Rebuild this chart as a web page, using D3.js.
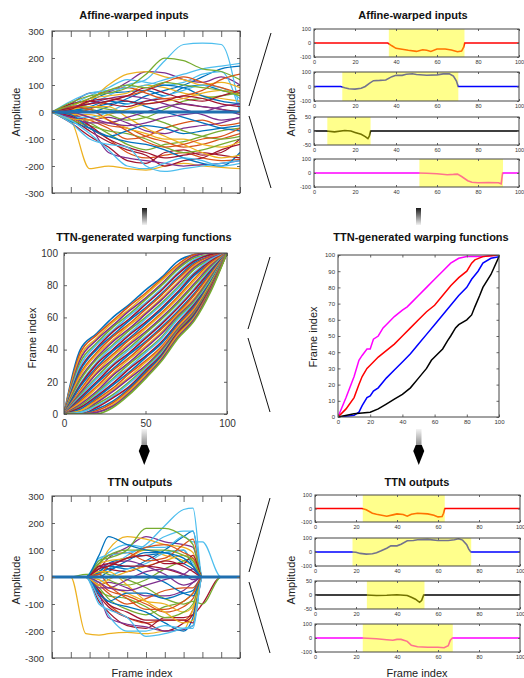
<!DOCTYPE html>
<html>
<head>
<meta charset="utf-8">
<script src="https://cdn.jsdelivr.net/npm/d3@7"></script>
<style>
  body { margin: 0; background: #fff; }
  svg { font-family: "Liberation Sans", Arial, sans-serif; }
</style>
</head>
<body>
<div id="fig"></div>
<script>
// ---- data ----
const matlabColors = ['#0072BD', '#D95319', '#EDB120', '#7E2F8E', '#77AC30', '#4DBEEE', '#A2142F'];

// left column, affine-warped inputs, sampled every 10 frames
const inFrames = [0, 10, 20, 30, 40, 50, 60, 70, 80, 90, 100];
const inSeries = [
  [0, 15, 40, 70, 75, 80, 60, 90, 100, 80, 70],
  [0, -20, -60, -100, -150, -170, -160, -150, -170, -180, -175],
  [0, -30, -210, -200, -210, -215, -200, -190, -200, -205, -210],
  [0, 30, 70, 75, 110, 150, 145, 120, 110, 130, 100],
  [0, -10, -40, -80, -120, -140, -120, -110, -90, -70, -60],
  [0, 10, 30, 60, 100, 120, 190, 250, 255, 250, 0],
  [0, -40, -90, -130, -180, -190, -150, -140, -160, -150, -100],
  [0, 5, 20, 40, 30, 60, 80, 100, 130, 160, 170],
  [0, -5, -20, -50, -60, -90, -110, -130, -120, -100, -80],
  [0, 20, 50, 60, 70, 100, 90, 70, 60, 50, 40],
  [0, -15, -30, -20, -40, -70, -80, -60, -50, -40, -20],
  [0, 0, 10, -10, -30, -20, 10, 40, 50, 60, 70],
  [0, 25, 60, 90, 120, 110, 100, 110, 140, 150, 0],
  [0, -25, -70, -110, -140, -160, -200, -180, -170, -140, -120],
  [0, 10, 0, 20, 50, 80, 100, 90, 60, 40, 30],
  [0, -10, -30, -60, -100, -90, -60, -40, -30, -50, -40],
  [0, 5, 40, 100, 140, 150, 130, 120, 100, 110, 90],
  [0, -5, -50, -150, -170, -180, -190, -200, -195, -190, -180],
  [0, 15, 20, 10, 0, -20, -40, -70, -90, -100, -90],
  [0, -20, -20, 0, 30, 40, 60, 80, 100, 90, 50],
  [0, 30, 40, 30, 20, 40, 50, 30, 20, 10, 0],
  [0, -35, -60, -90, -110, -120, -140, -170, -190, -200, -150],
  [0, 10, 50, 80, 90, 70, 50, 60, 80, 120, 140],
  [0, -10, -10, -30, -60, -80, -100, -100, -120, -130, -110],
  [0, 20, 30, 50, 60, 50, 30, 10, -10, -30, -20],
  [0, -30, -50, -70, -80, -100, -130, -150, -140, -120, -100],
  [0, 40, 70, 80, 90, 100, 120, 140, 160, 170, 180],
  [0, -15, -50, -100, -130, -150, -170, -160, -150, -160, -170],
  [0, 5, 15, 30, 40, 20, 0, -20, -40, -60, -70],
  [0, -5, 10, 40, 60, 80, 110, 130, 110, 90, 70],
  [0, 10, 20, 20, -20, -60, -90, -120, -150, -170, -160],
  [0, -20, -40, -40, -20, 0, 20, 30, 20, 10, -10],
  [0, 35, 60, 70, 90, 140, 200, 190, 160, 150, 120],
  [0, -40, -100, -120, -130, -200, -220, -210, -200, -190, -180],
  [0, 15, 30, 40, 60, 90, 70, 50, 40, 60, 80],
  [0, -10, -60, -90, -70, -50, -60, -80, -70, -60, -50],
  [0, 20, 10, -30, -70, -110, -130, -120, -100, -90, -60],
  [0, -25, -30, -10, 10, 30, 40, 50, 70, 80, 60],
  [0, 0, -20, -40, -50, -40, -20, -10, 0, 20, 30],
  [0, 25, 50, 80, 100, 90, 110, 100, 90, 80, 60],
  [0, -30, -80, -140, -200, -210, -190, -170, -180, -200, -190],
  [0, 10, 40, 50, 40, 30, 40, 60, 50, 30, 20],
  [0, 0, 0, 0, 0, 0, 0, 0, 0, 0, 0]
];

// left column, TTN outputs
const outFrames = [0, 10, 18, 25, 30, 40, 50, 60, 70, 75, 80, 90, 100];
const outSeries = [
  [0, 0, 0, 20, 50, 70, 80, 90, 100, 40, 0, 0, 0],
  [0, 0, 0, -60, -100, -150, -170, -160, -160, -120, 0, 0, 0],
  [0, 0, -210, -215, -210, -205, -210, -200, -195, -120, 0, 0, 0],
  [0, 0, 0, 30, 70, 110, 150, 130, 120, 110, 0, 0, 0],
  [0, 0, 0, -40, -80, -120, -140, -110, -90, -60, 0, 0, 0],
  [0, 0, 0, 10, 30, 80, 120, 190, 250, 255, 0, 0, 0],
  [0, 0, 0, -90, -130, -180, -190, -150, -150, -140, -100, 0, 0],
  [0, 0, 0, 20, 40, 30, 60, 100, 150, 170, 0, 0, 0],
  [0, 0, 0, -20, -50, -70, -100, -130, -110, -80, 0, 0, 0],
  [0, 0, 0, 50, 60, 70, 100, 80, 60, 40, 0, 0, 0],
  [0, 0, 0, -30, -20, -40, -70, -70, -50, -20, 0, 0, 0],
  [0, 0, 10, 10, -10, -30, -10, 30, 60, 70, 0, 0, 0],
  [0, 0, 0, 60, 90, 120, 110, 110, 150, 130, 130, 0, 0],
  [0, 0, 0, -70, -110, -150, -170, -200, -170, -140, 0, 0, 0],
  [0, 0, 0, 0, 20, 60, 90, 90, 50, 30, 0, 0, 0],
  [0, 0, 0, -30, -60, -100, -80, -50, -40, -40, 0, 0, 0],
  [0, 0, 0, 40, 100, 150, 140, 120, 110, 90, 0, 0, 0],
  [0, 0, 0, -60, -150, -175, -185, -200, -195, -180, 0, 0, 0],
  [0, 0, 0, 20, 10, -10, -40, -80, -100, -90, -100, 0, 0],
  [0, 0, 0, -20, 0, 30, 50, 90, 100, 50, 0, 0, 0],
  [0, 0, 0, 40, 30, 20, 40, 30, 10, 0, 0, 0, 0],
  [0, 0, 0, -60, -90, -110, -130, -170, -200, -150, 0, 0, 0],
  [0, 0, 0, 50, 80, 90, 60, 70, 120, 140, 0, 0, 0],
  [0, 0, 0, -10, -30, -60, -90, -100, -130, -110, 0, 0, 0],
  [0, 0, 0, 30, 50, 60, 40, 10, -30, -20, 0, 0, 0],
  [0, 0, 0, -50, -70, -80, -110, -150, -130, -100, 0, 0, 0],
  [0, 0, 0, 70, 80, 90, 110, 150, 170, 170, 0, 0, 0],
  [0, 0, 0, -50, -100, -130, -160, -160, -160, -170, 0, 0, 0],
  [0, 0, 0, 15, 30, 40, 10, -20, -60, -70, 0, 0, 0],
  [0, 0, 0, 10, 40, 70, 110, 120, 90, 70, 0, 0, 0],
  [0, 0, 0, 20, 20, -30, -90, -130, -170, -160, 0, 0, 0],
  [0, 0, 0, -40, -40, -10, 20, 30, 10, -10, 0, 0, 0],
  [0, 0, 0, 60, 70, 100, 180, 180, 150, 120, 0, 0, 0],
  [0, 0, 0, -100, -120, -150, -220, -210, -190, -180, 0, 0, 0],
  [0, 0, 0, 30, 40, 70, 80, 50, 50, 80, 0, 0, 0],
  [0, 0, 0, -60, -90, -60, -60, -80, -60, -50, 0, 0, 0],
  [0, 0, 0, 10, -30, -80, -120, -120, -90, -60, 0, 0, 0],
  [0, 0, 0, -30, -10, 20, 40, 60, 80, 60, 0, 0, 0],
  [0, 0, 0, -20, -40, -50, -30, -10, 10, 30, 0, 0, 0],
  [0, 0, 0, 50, 80, 100, 100, 100, 80, 60, 0, 0, 0],
  [0, 0, 0, -80, -140, -200, -200, -180, -190, -190, 0, 0, 0],
  [0, 0, 0, 40, 50, 40, 40, 60, 40, 20, 0, 0, 0],
  [0, 0, 0, 80, 150, 120, 100, 90, 70, 40, 0, 0, 0],
  [0, 0, 0, 0, 0, 0, 0, 0, 0, 0, 0, 0, 0]
];

// left column, warping functions
const warpFrames = [0, 10, 20, 30, 40, 50, 60, 70, 80, 90, 100];
const warpSeries = [
  [0, 40, 50, 60, 68, 77, 85, 95, 99, 100, 100],
  [0, 38, 49, 58, 67, 75, 84, 93, 99, 100, 100],
  [0, 36, 47, 57, 65, 74, 83, 92, 98, 100, 100],
  [0, 34, 46, 55, 64, 72, 81, 91, 98, 100, 100],
  [0, 32, 44, 54, 62, 71, 80, 90, 97, 99, 100],
  [0, 30, 43, 52, 61, 69, 78, 88, 96, 99, 100],
  [0, 28, 41, 51, 59, 68, 77, 87, 95, 99, 100],
  [0, 27, 40, 49, 58, 66, 75, 85, 94, 98, 100],
  [0, 25, 38, 48, 56, 65, 74, 84, 93, 98, 100],
  [0, 24, 37, 46, 55, 63, 72, 82, 92, 97, 100],
  [0, 22, 35, 45, 53, 62, 71, 81, 91, 97, 100],
  [0, 21, 34, 43, 52, 60, 69, 79, 90, 96, 100],
  [0, 19, 32, 42, 50, 59, 68, 78, 88, 96, 100],
  [0, 18, 31, 40, 49, 57, 66, 76, 87, 95, 100],
  [0, 17, 29, 39, 47, 56, 65, 75, 86, 94, 100],
  [0, 15, 28, 37, 46, 54, 63, 73, 84, 94, 100],
  [0, 14, 26, 36, 44, 53, 62, 72, 83, 93, 100],
  [0, 13, 25, 34, 43, 51, 60, 70, 81, 92, 100],
  [0, 12, 23, 33, 41, 50, 59, 69, 80, 91, 100],
  [0, 11, 22, 31, 40, 48, 57, 67, 78, 90, 100],
  [0, 10, 20, 30, 38, 47, 56, 66, 77, 89, 100],
  [0, 9, 19, 28, 37, 45, 54, 64, 75, 88, 100],
  [0, 8, 17, 27, 35, 44, 53, 63, 74, 87, 100],
  [0, 7, 16, 25, 34, 42, 51, 62, 72, 86, 100],
  [0, 6, 14, 24, 32, 41, 50, 61, 71, 85, 100],
  [0, 5, 13, 22, 31, 39, 48, 60, 70, 84, 100],
  [0, 4, 12, 21, 29, 38, 47, 59, 69, 83, 100],
  [0, 4, 11, 19, 28, 36, 45, 57, 68, 82, 100],
  [0, 3, 10, 18, 26, 35, 44, 56, 67, 82, 100],
  [0, 2, 9, 16, 25, 33, 42, 55, 66, 81, 100],
  [0, 2, 8, 15, 23, 32, 41, 54, 65, 81, 100],
  [0, 1, 7, 14, 22, 30, 40, 53, 64, 80, 100],
  [0, 1, 6, 12, 20, 29, 39, 52, 63, 80, 100],
  [0, 1, 5, 11, 19, 28, 38, 51, 62, 79, 100],
  [0, 0, 4, 10, 17, 27, 37, 51, 62, 79, 100],
  [0, 0, 3, 8, 16, 26, 36, 50, 61, 78, 100],
  [0, 0, 2, 7, 15, 25, 35, 50, 60, 78, 100],
  [0, 0, 1, 6, 14, 24, 35, 49, 60, 77, 100],
  [0, 0, 1, 5, 13, 23, 34, 48, 59, 77, 100],
  [0, 0, 0, 4, 12, 22, 33, 47, 58, 76, 100]
];

// right column, four example warping functions
const exWarpNames = ['magenta', 'red', 'blue', 'black'];
const exWarpColors = ['#ff00ff', '#ff0000', '#0000ff', '#000000'];
const exWarpX = [
  [0, 5, 10, 13, 15, 18, 20, 22, 25, 28, 30, 35, 40, 43, 47, 50, 55, 60, 65, 70, 75, 80, 90, 100],
  [0, 5, 10, 13, 15, 18, 20, 25, 30, 35, 40, 45, 50, 55, 60, 65, 70, 75, 80, 83, 85, 90, 100],
  [0, 10, 13, 15, 18, 20, 22, 25, 30, 35, 40, 45, 50, 55, 60, 65, 70, 75, 80, 83, 87, 90, 95, 100],
  [0, 10, 20, 25, 30, 35, 40, 45, 50, 55, 58, 60, 65, 68, 70, 73, 75, 80, 83, 85, 88, 90, 95, 100]
];
const exWarpY = [
  [0, 12, 25, 35, 38, 42, 42, 48, 50, 55, 57, 62, 66, 68, 72, 75, 80, 85, 90, 95, 98, 99, 99, 100],
  [0, 5, 12, 20, 25, 30, 32, 37, 41, 45, 50, 55, 60, 65, 69, 75, 81, 86, 90, 95, 97, 99, 100],
  [0, 1, 3, 7, 12, 13, 16, 18, 24, 29, 34, 39, 45, 51, 57, 63, 69, 75, 80, 85, 90, 95, 98, 99],
  [0, 2, 3, 5, 8, 11, 14, 18, 24, 30, 35, 37, 42, 47, 50, 55, 57, 60, 63, 68, 75, 80, 88, 99]
];

// right column, example inputs (top) and outputs (bottom)
const exColors = ['#ff0000', '#0000ff', '#000000', '#ff00ff'];
const exYMax = [100, 100, 50, 100];
const inExX = [
  [0, 36, 38, 40, 43, 46, 50, 53, 55, 57, 60, 64, 67, 70, 72, 73, 73.5, 100],
  [0, 13, 15, 17, 20, 23, 25, 27, 29, 32, 35, 38, 40, 43, 45, 48, 50, 55, 60, 63, 66, 68, 69.5, 70.3, 100],
  [0, 6, 10, 15, 18, 20, 23, 25, 26.3, 27, 27.6, 100],
  [0, 51, 55, 60, 65, 68, 70, 72, 75, 77, 80, 85, 90, 91.3, 92, 100]
];
const inExY = [
  [0, 0, -20, -38, -45, -52, -60, -48, -52, -60, -43, -43, -50, -62, -58, -30, 0, 0],
  [0, 0, -8, -15, -18, -12, 0, 22, 40, 42, 45, 68, 78, 77, 85, 88, 83, 78, 80, 87, 88, 72, 38, 0, 0],
  [0, 0, -3, 2, 0, -5, -12, -20, -27, -18, 0, 0],
  [0, 0, -2, -5, -12, -10, -8, -25, -55, -66, -70, -69, -70, -77, 0, 0]
];
const inExSpan = [[36.5, 73.4], [13.8, 70.4], [6.5, 27.6], [51.4, 92.2]];

const outExX = [
  [0, 23, 25, 28, 30, 35, 38, 40, 43, 45, 47, 50, 55, 58, 60, 62, 62.7, 63.3, 100],
  [0, 18, 20, 22, 25, 28, 30, 32, 35, 37, 40, 42, 45, 48, 50, 55, 60, 65, 68, 70, 72, 74, 75, 76, 100],
  [0, 25, 30, 35, 40, 45, 47, 49, 51, 52, 53, 100],
  [0, 23, 30, 35, 38, 40, 42, 45, 47, 50, 55, 60, 63, 65, 66, 67, 100]
];
const outExY = [
  [0, 0, -10, -35, -42, -57, -47, -40, -44, -57, -42, -35, -40, -50, -62, -60, -35, 0, 0],
  [0, 0, -2, -10, -15, -13, -5, 7, 27, 44, 44, 56, 80, 82, 88, 90, 82, 82, 88, 94, 85, 52, 20, 0, 0],
  [0, 0, -2, -1, 1, -2, -8, -15, -26, -20, 0, 0],
  [0, 0, -5, -12, -16, -10, -10, -24, -52, -63, -66, -66, -70, -55, -15, 0, 0]
];
const outExSpan = [[23.3, 63.3], [18.3, 76.2], [25.3, 53.4], [23.3, 67.2]];

const ampTicks = [-300, -200, -100, 0, 100, 200, 300];
const tenTicks = [0, 10, 20, 30, 40, 50, 60, 70, 80, 90, 100];
const twentyTicks = [0, 20, 40, 60, 80, 100];

// ---- drawing ----
const svg = d3.select('#fig').append('svg')
  .attr('width', 524)
  .attr('height', 678);
const defs = svg.append('defs');
let clipCount = 0;

function makeAxes(left, top, width, height, xDomain, yDomain) {
  const g = svg.append('g').attr('transform', `translate(${left},${top})`);
  const x = d3.scaleLinear().domain(xDomain).range([0, width]);
  const y = d3.scaleLinear().domain(yDomain).range([height, 0]);
  const id = `clip${clipCount++}`;
  defs.append('clipPath').attr('id', id)
    .append('rect').attr('width', width).attr('height', height);
  const plot = g.append('g').attr('clip-path', `url(#${id})`);
  return { g, x, y, plot, width, height };
}

function decorate(ax, o) {
  const { g, x, y, width, height } = ax;
  const fmt = d => String(d);
  const parts = [];
  parts.push(g.append('g').attr('transform', `translate(0,${height})`)
    .call(d3.axisBottom(x).tickValues(o.xTicks).tickSize(-o.xLen)
      .tickPadding(o.xPad).tickFormat(o.xLabels ? fmt : '')));
  parts.push(g.append('g')
    .call(d3.axisTop(x).tickValues(o.xTicks).tickSize(-o.xLen).tickFormat('')));
  parts.push(g.append('g')
    .call(d3.axisLeft(y).tickValues(o.yTicks).tickSize(-o.yLen)
      .tickPadding(o.yPad).tickFormat(fmt)));
  parts.push(g.append('g').attr('transform', `translate(${width},0)`)
    .call(d3.axisRight(y).tickValues(o.yTicks).tickSize(-o.yLen).tickFormat('')));
  parts.forEach((a) => {
    a.select('.domain').remove();
    a.attr('font-family', null).attr('font-size', o.font);
    a.selectAll('line').attr('stroke', '#666');
    a.selectAll('text').attr('fill', '#333');
  });
  g.append('rect')
    .attr('width', width)
    .attr('height', height)
    .attr('fill', 'none')
    .attr('stroke', '#444')
    .attr('stroke-width', 1);
}

function drawSeries(ax, frames, series, width, curve) {
  const line = d3.line()
    .x((d, i) => ax.x(frames[i]))
    .y(d => ax.y(d))
    .curve(curve);
  ax.plot.selectAll(null)
    .data(series)
    .enter()
    .append('path')
    .attr('d', d => line(d))
    .attr('fill', 'none')
    .attr('stroke', (d, i) => matlabColors[i % matlabColors.length])
    .attr('stroke-width', width);
}

function title(text, cx, y) {
  svg.append('text')
    .attr('x', cx).attr('y', y)
    .attr('text-anchor', 'middle')
    .attr('font-size', 11)
    .attr('font-weight', 'bold')
    .attr('fill', '#111')
    .text(text);
}

function yLabel(text, x, cy) {
  svg.append('text')
    .attr('transform', `translate(${x},${cy}) rotate(-90)`)
    .attr('text-anchor', 'middle')
    .attr('font-size', 11)
    .attr('fill', '#222')
    .text(text);
}

function xLabel(text, cx, y) {
  svg.append('text')
    .attr('x', cx).attr('y', y)
    .attr('text-anchor', 'middle')
    .attr('font-size', 11)
    .attr('fill', '#222')
    .text(text);
}

// big amplitude panels (inputs and outputs)
function amplitudePanel(top, frames, series) {
  const ax = makeAxes(52, top, 188, 162, [0, 100], [-300, 300]);
  drawSeries(ax, frames, series.slice(0, -1), 1.25, d3.curveMonotoneX);
  // thick flat zero line drawn last
  drawSeries(ax, frames, [series[series.length - 1]], 3, d3.curveLinear);
  ax.plot.select('path:last-child').attr('stroke', '#1f6fb0');
  decorate(ax, { xTicks: tenTicks, yTicks: ampTicks, xLabels: false, xLen: 6, yLen: 3, xPad: 3, yPad: 8, font: 9.5 });
}
amplitudePanel(31, inFrames, inSeries);
amplitudePanel(496, outFrames, outSeries);

// warping function panel
(function () {
  const ax = makeAxes(64, 253, 163, 161, [0, 100], [0, 100]);
  drawSeries(ax, warpFrames, warpSeries, 1.6, d3.curveMonotoneX);
  decorate(ax, { xTicks: [0, 50, 100], yTicks: [0, 20, 40, 60, 80, 100], xLabels: true, xLen: 3, yLen: 3, xPad: 6, yPad: 6, font: 10 });
}());

// example warping functions
(function () {
  const ax = makeAxes(338, 255, 161, 162, [0, 100], [0, 100]);
  const line = d3.line().x(d => ax.x(d[0])).y(d => ax.y(d[1]));
  exWarpX.forEach((xs, k) => {
    ax.plot.append('path')
      .attr('class', exWarpNames[k])
      .attr('d', line(xs.map((v, i) => [v, exWarpY[k][i]])))
      .attr('fill', 'none')
      .attr('stroke', exWarpColors[k])
      .attr('stroke-width', 1.5);
  });
  decorate(ax, { xTicks: twentyTicks, yTicks: tenTicks, xLabels: true, xLen: 2.5, yLen: 2.5, xPad: 3, yPad: 3, font: 6 });
}());

// four stacked example subplots
function examplePanel(left, width, rows, xsAll, ysAll, spans) {
  rows.forEach((r, k) => {
    const m = exYMax[k];
    const ax = makeAxes(left, r[0], width, r[1] - r[0], [0, 100], [-m, m]);
    const line = d3.line().x(d => ax.x(d[0])).y(d => ax.y(d[1]));
    ax.plot.append('path')
      .attr('d', line(xsAll[k].map((v, i) => [v, ysAll[k][i]])))
      .attr('fill', 'none')
      .attr('stroke', exColors[k])
      .attr('stroke-width', 1.6);
    ax.plot.append('rect')
      .attr('x', ax.x(spans[k][0]))
      .attr('width', ax.x(spans[k][1]) - ax.x(spans[k][0]))
      .attr('y', 0)
      .attr('height', ax.height)
      .attr('fill', '#ffff00')
      .attr('fill-opacity', 0.45);
    decorate(ax, { xTicks: twentyTicks, yTicks: [-m, 0, m], xLabels: true, xLen: 2, yLen: 2, xPad: 3, yPad: 3, font: 5.5 });
  });
}
examplePanel(314, 205, [[29, 57], [72, 101], [117, 145], [159, 187]], inExX, inExY, inExSpan);
examplePanel(315, 205, [[495, 522], [538, 566], [581, 609], [624, 652]], outExX, outExY, outExSpan);

// titles and labels
title('Affine-warped inputs', 134, 19);
title('Affine-warped inputs', 413, 19);
title('TTN-generated warping functions', 144, 241);
title('TTN-generated warping functions', 421, 241);
title('TTN outputs', 140, 486);
title('TTN outputs', 417, 486);
yLabel('Amplitude', 20, 112);
yLabel('Amplitude', 295, 112);
yLabel('Frame index', 36, 338);
yLabel('Frame index', 317, 337);
yLabel('Amplitude', 20, 580);
yLabel('Amplitude', 295, 580);
xLabel('Frame index', 142, 677);
xLabel('Frame index', 417, 677);

// "<" connectors between the columns
const connectors = [
  [[271, 33], [249, 106]], [[249, 116], [271, 188]],
  [[270, 257], [248, 329]], [[248, 338], [270, 412]],
  [[270, 498], [249, 572]], [[249, 582], [270, 653]]
];
svg.selectAll('.conn')
  .data(connectors)
  .enter()
  .append('line')
  .attr('class', 'conn')
  .attr('x1', d => d[0][0]).attr('y1', d => d[0][1])
  .attr('x2', d => d[1][0]).attr('y2', d => d[1][1])
  .attr('stroke', '#111')
  .attr('stroke-width', 1);

// arrows between rows
const g1 = defs.append('linearGradient').attr('id', 'fadeDown')
  .attr('x1', 0).attr('y1', 0).attr('x2', 0).attr('y2', 1);
g1.append('stop').attr('offset', '0%').attr('stop-color', '#1a1a1a');
g1.append('stop').attr('offset', '100%').attr('stop-color', '#f2f2f2');
const g2 = defs.append('linearGradient').attr('id', 'fadeUp')
  .attr('x1', 0).attr('y1', 0).attr('x2', 0).attr('y2', 1);
g2.append('stop').attr('offset', '0%').attr('stop-color', '#f4f4f4');
g2.append('stop').attr('offset', '100%').attr('stop-color', '#777');

[142, 416].forEach((x) => {
  svg.append('rect').attr('x', x).attr('y', 208).attr('width', 5).attr('height', 17)
    .attr('fill', 'url(#fadeDown)');
});
[141.5, 416].forEach((x) => {
  svg.append('rect').attr('x', x).attr('y', 429).attr('width', 5.5).attr('height', 20)
    .attr('fill', 'url(#fadeUp)');
  const c = x + 2.75;
  svg.append('path')
    .attr('d', `M${c - 3},445 L${c - 5.5},451 L${c},465 L${c + 5.5},451 L${c + 3},445 Z`)
    .attr('fill', '#000');
});
</script>
</body>
</html>
